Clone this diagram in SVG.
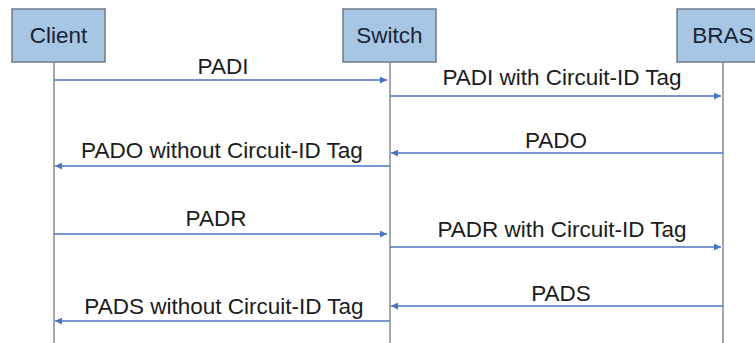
<svg xmlns="http://www.w3.org/2000/svg" width="755" height="343" viewBox="0 0 755 343">
<defs>
<marker id="ah" viewBox="0 0 10 10" refX="10" refY="5" markerWidth="10" markerHeight="7" markerUnits="userSpaceOnUse" orient="auto">
<path d="M0,0 L10,5 L0,10 z" fill="#4a74c0"/>
</marker>
<style>
.box{fill:#a7c6e4;stroke:#6f7b86;stroke-width:1.5}
.life{stroke:#8a8a8a;stroke-width:1.5}
.msg{stroke:#4a74c0;stroke-width:1.5;fill:none;marker-end:url(#ah)}
text{font-family:"Liberation Sans",Arial,sans-serif;font-size:22.5px;fill:#1b1b1b;text-anchor:middle}
.nl{fill:#1a2336}
</style>
</defs>
<rect width="755" height="343" fill="#ffffff"/>
<g id="client">
<line class="life" x1="54" y1="62" x2="54" y2="343"/>
<rect class="box" x="12" y="9" width="93" height="53"/>
<text class="nl" x="58.5" y="43">Client</text>
</g>
<g id="switch">
<line class="life" x1="390" y1="62" x2="390" y2="343"/>
<rect class="box" x="343" y="9" width="93" height="53"/>
<text class="nl" x="389.5" y="43">Switch</text>
</g>
<g id="bras">
<line class="life" x1="723" y1="62" x2="723" y2="343"/>
<rect class="box" x="677" y="9" width="92" height="53"/>
<text class="nl" x="723" y="43">BRAS</text>
</g>
<g id="connectors">
<line class="msg" x1="54" y1="80" x2="387" y2="80"/>
<text x="223" y="74">PADI</text>
<line class="msg" x1="390" y1="96" x2="721" y2="96"/>
<text x="562" y="85">PADI with Circuit-ID Tag</text>
<line class="msg" x1="723" y1="153" x2="391" y2="153"/>
<text x="556" y="148">PADO</text>
<line class="msg" x1="390" y1="166" x2="55" y2="166"/>
<text x="222" y="158">PADO without Circuit-ID Tag</text>
<line class="msg" x1="54" y1="234" x2="387" y2="234"/>
<text x="216" y="226">PADR</text>
<line class="msg" x1="390" y1="247" x2="721" y2="247"/>
<text x="562" y="237">PADR with Circuit-ID Tag</text>
<line class="msg" x1="723" y1="306" x2="391" y2="306"/>
<text x="561" y="301">PADS</text>
<line class="msg" x1="390" y1="321" x2="55" y2="321"/>
<text x="224" y="314">PADS without Circuit-ID Tag</text>
</g>
</svg>
